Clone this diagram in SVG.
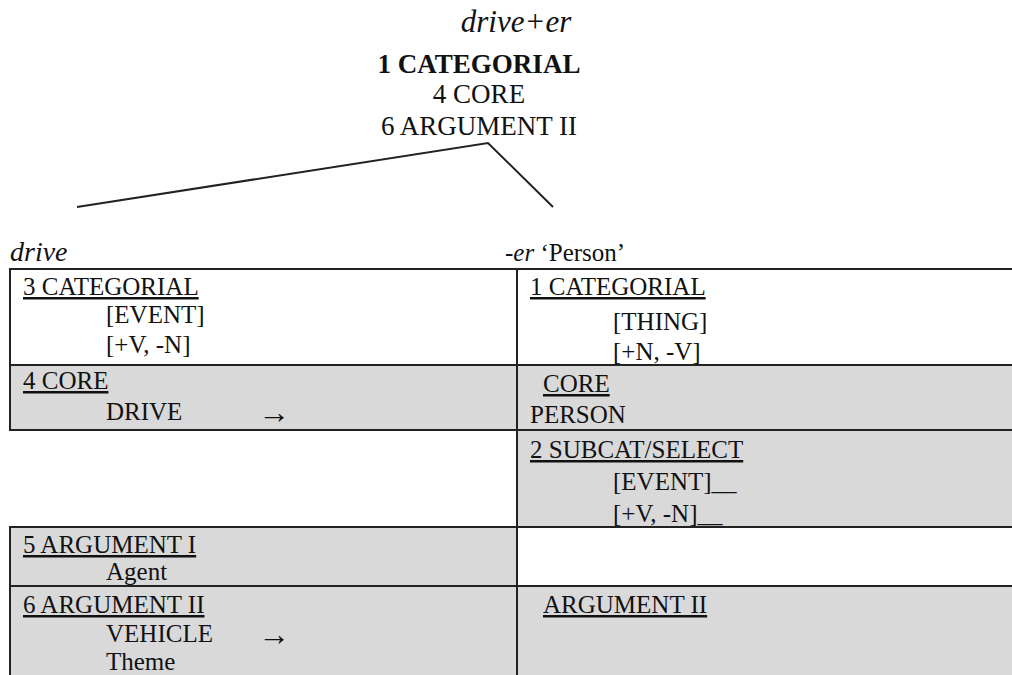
<svg xmlns="http://www.w3.org/2000/svg" width="1012" height="675" viewBox="0 0 1012 675" font-family="Liberation Serif, Times New Roman, serif">
<style>
text{font-size:25px;fill:#111}
.it{font-style:italic}
.b{font-weight:bold}
.u{text-decoration:underline}
.m{text-anchor:middle}
.t{font-size:27px}
.ar{font-size:32px}
.g{fill:#d9d9d9}
.w{fill:#ffffff}
.ln{stroke:#222;stroke-width:2;fill:none}
</style>
<rect width="1012" height="675" fill="#fff"/>
<g id="root">
<text class="it m" x="516" y="32" style="font-size:31px">drive+er</text>
<text class="b m t" x="479" y="73">1 CATEGORIAL</text>
<text class="m t" x="479" y="103">4 CORE</text>
<text class="m t" x="479" y="135">6 ARGUMENT II</text>
</g>
<g id="connectors">
<polyline class="ln" points="77,207 488,143 553,207"/>
</g>
<g id="labels">
<text class="it" x="10" y="261" style="font-size:28px">drive</text>
<text x="505" y="261"><tspan class="it">-er</tspan> ‘Person’</text>
</g>
<g id="drive-categorial">
<rect class="w" x="10" y="269" width="507" height="96"/>
<text class="u" x="23" y="295">3 CATEGORIAL</text>
<text x="106" y="323">[EVENT]</text>
<text x="106" y="353">[+V, -N]</text>
</g>
<g id="drive-core">
<rect class="g" x="10" y="365" width="507" height="65"/>
<text class="u" x="23" y="389">4 CORE</text>
<text x="106" y="420">DRIVE</text>
<text class="ar" x="258" y="423">→</text>
</g>
<g id="drive-empty">
<rect class="w" x="10" y="430" width="507" height="97"/>
</g>
<g id="drive-arg1">
<rect class="g" x="10" y="527" width="507" height="59"/>
<text class="u" x="23" y="553">5 ARGUMENT I</text>
<text x="106" y="580">Agent</text>
</g>
<g id="drive-arg2">
<rect class="g" x="10" y="586" width="507" height="95"/>
<text class="u" x="23" y="613">6 ARGUMENT II</text>
<text x="106" y="642">VEHICLE</text>
<text class="ar" x="258" y="645">→</text>
<text x="106" y="670">Theme</text>
</g>
<g id="er-categorial">
<rect class="w" x="517" y="269" width="500" height="96"/>
<text class="u" x="530" y="295">1 CATEGORIAL</text>
<text x="613" y="330">[THING]</text>
<text x="613" y="360">[+N, -V]</text>
</g>
<g id="er-core">
<rect class="g" x="517" y="365" width="500" height="65"/>
<text class="u" x="543" y="392">CORE</text>
<text x="530" y="423">PERSON</text>
</g>
<g id="er-subcat">
<rect class="g" x="517" y="430" width="500" height="97"/>
<text class="u" x="530" y="458">2 SUBCAT/SELECT</text>
<text x="613" y="490">[EVENT]__</text>
<text x="613" y="522">[+V, -N]__</text>
</g>
<g id="er-empty">
<rect class="w" x="517" y="527" width="500" height="59"/>
</g>
<g id="er-arg2">
<rect class="g" x="517" y="586" width="500" height="95"/>
<text class="u" x="543" y="613">ARGUMENT II</text>
</g>
<g id="grid">
<line class="ln" x1="10" y1="269" x2="1012" y2="269"/>
<line class="ln" x1="10" y1="365" x2="1012" y2="365"/>
<line class="ln" x1="10" y1="430" x2="1012" y2="430"/>
<line class="ln" x1="10" y1="527" x2="1012" y2="527"/>
<line class="ln" x1="10" y1="586" x2="1012" y2="586"/>
<line class="ln" x1="10" y1="268" x2="10" y2="431"/>
<line class="ln" x1="10" y1="526" x2="10" y2="675"/>
<line class="ln" x1="517" y1="268" x2="517" y2="675"/>
</g>
</svg>
